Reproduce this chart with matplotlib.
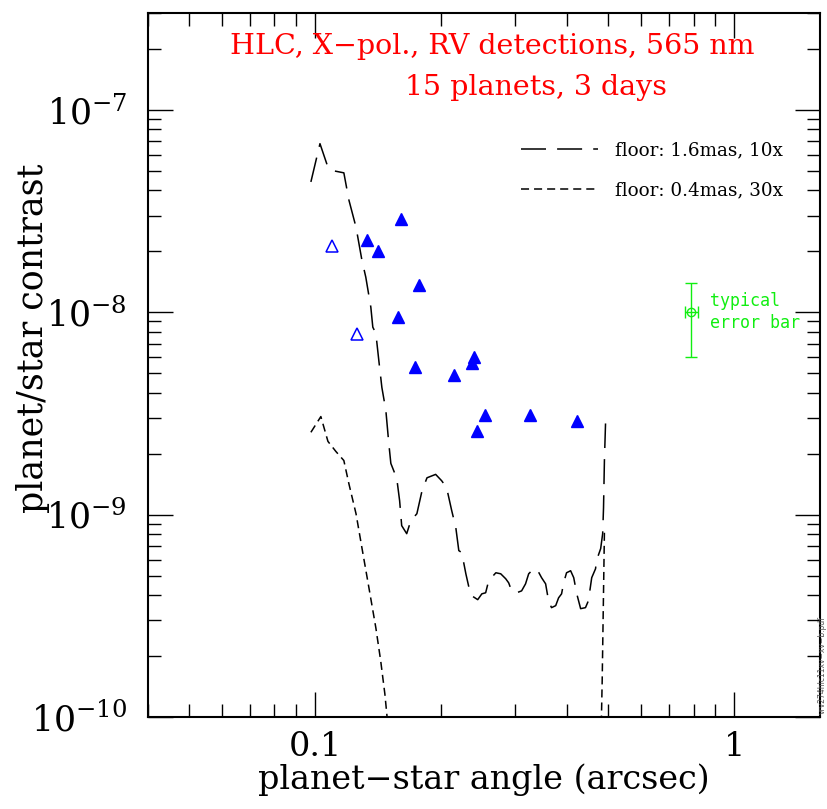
import numpy as np
import matplotlib

matplotlib.use("Agg")
import matplotlib.pyplot as plt
from matplotlib.ticker import LogLocator, NullFormatter

plt.rcParams.update({
    "font.family": "DejaVu Serif",
    "mathtext.fontset": "dejavuserif",
    "lines.scale_dashes": False,
})

# contrast floor, 1.6 mas pointing, 10x post-processing (long dashes)
long_x = [0.0978, 0.1028, 0.1074, 0.111, 0.1172, 0.1205, 0.1253, 0.1294, 0.1322, 0.1359,
          0.1374, 0.1397, 0.142, 0.1444, 0.1476, 0.150, 0.1517, 0.1567, 0.1592, 0.161,
          0.1655, 0.1693, 0.175, 0.180, 0.185, 0.194, 0.2005, 0.206, 0.2118, 0.2167,
          0.2203, 0.2239, 0.229, 0.233, 0.2366, 0.2444, 0.25, 0.2553, 0.2595, 0.27,
          0.2773, 0.285, 0.2897, 0.2944, 0.3027, 0.311, 0.3178, 0.3233, 0.3287, 0.338,
          0.347, 0.3548, 0.3606, 0.3665, 0.375, 0.381, 0.3873, 0.3917, 0.398, 0.407,
          0.414, 0.421, 0.43, 0.4416, 0.4487, 0.457, 0.4667, 0.469, 0.48, 0.4853,
          0.4876, 0.49, 0.493]
long_y = [4.4e-8, 6.8e-8, 5.2e-8, 4.99e-8, 4.88e-8, 3.58e-8, 2.63e-8, 1.81e-8, 1.49e-8, 1.06e-8,
          8.43e-9, 7.87e-9, 5.78e-9, 4.25e-9, 3.27e-9, 2.25e-9, 1.79e-9, 1.51e-9, 1.17e-9, 8.82e-10,
          8.05e-10, 9.34e-10, 1.01e-9, 1.31e-9, 1.52e-9, 1.58e-9, 1.47e-9, 1.36e-9, 1.05e-9, 8.63e-10,
          6.64e-10, 6.49e-10, 5.1e-10, 4.35e-10, 3.97e-10, 3.8e-10, 4.06e-10, 4.11e-10, 4.71e-10, 5.16e-10,
          5.1e-10, 4.82e-10, 4.6e-10, 4.2e-10, 4.11e-10, 4.2e-10, 4.55e-10, 5.1e-10, 5.28e-10, 5.4e-10,
          4.88e-10, 4.55e-10, 3.75e-10, 3.47e-10, 3.55e-10, 3.88e-10, 4.06e-10, 4.6e-10, 5.16e-10, 5.28e-10,
          4.88e-10, 4.06e-10, 3.43e-10, 3.47e-10, 3.75e-10, 4.88e-10, 5.4e-10, 5.92e-10, 6.79e-10, 8.05e-10,
          1.08e-9, 1.85e-9, 2.82e-9]

# contrast floor, 0.4 mas pointing, 30x post-processing (short dashes)
short_x = [0.0978, 0.1033, 0.1074, 0.1122, 0.1172, 0.1205, 0.1253, 0.1294, 0.1345, 0.1397,
           0.1435, 0.1468, 0.1484, 0.150, np.nan, 0.481, 0.484, 0.487, 0.490]
short_y = [2.55e-9, 3.05e-9, 2.3e-9, 2.05e-9, 1.85e-9, 1.42e-9, 1.01e-9, 6.87e-10, 4.35e-10, 2.76e-10,
           1.89e-10, 1.3e-10, 1.03e-10, 8e-11, np.nan, 8e-11, 1.5e-10, 3.5e-10, 8.2e-10]

# RV planets
detected_x = [0.133, 0.141, 0.160, 0.177, 0.158, 0.173, 0.214, 0.240, 0.237, 0.254, 0.243, 0.325, 0.421]
detected_y = [2.27e-8, 2.0e-8, 2.88e-8, 1.36e-8, 9.5e-9, 5.35e-9, 4.9e-9, 6.0e-9, 5.6e-9, 3.1e-9,
              2.6e-9, 3.1e-9, 2.9e-9]
inner_x = [0.110, 0.126]
inner_y = [2.12e-8, 7.8e-9]

# typical error bar
err_x = [0.79]
err_y = [1e-8]
err_dx = [0.028]
err_dy = [4e-9]

GREEN = "#11ee11"

fig = plt.figure(figsize=(8.27, 8.09), dpi=100)
ax = fig.add_axes([0.179, 0.1137, 0.8125, 0.870])
ax.set_xscale("log")
ax.set_yscale("log")

ln1, = ax.plot(long_x, long_y, color="black", lw=1.1, dashes=(18, 8))
ln2, = ax.plot(short_x, short_y, color="black", lw=1.1, dashes=(5.8, 3.6))
ax.plot(detected_x, detected_y, ls="none", marker="^", ms=9, color="blue")
ax.plot(inner_x, inner_y, ls="none", marker="^", ms=8.5, mfc="none", mec="blue", mew=1.1)
ax.errorbar(err_x, err_y, xerr=err_dx, yerr=err_dy, fmt="o", ms=6, mfc="none",
            color=GREEN, elinewidth=1, capsize=4.5, mew=1)
ax.text(0.875, 1e-8, "typical\nerror bar", family="DejaVu Sans Mono", fontsize=12,
        color=GREEN, ha="left", va="center", linespacing=1.3)

ax.text(0.513, 0.952, "HLC, X\u2212pol., RV detections, 565 nm", transform=ax.transAxes,
        ha="center", va="center", color="red", fontsize=20.5)
ax.text(0.577, 0.895, "15 planets, 3 days", transform=ax.transAxes,
        ha="center", va="center", color="red", fontsize=20.5)

ax.legend([ln1, ln2], ["floor: 1.6mas, 10x", "floor: 0.4mas, 30x"], loc="upper right",
          bbox_to_anchor=(0.945, 0.818), frameon=False, fontsize=13.2, handlelength=4.2,
          handletextpad=0.93, labelspacing=1.2, borderpad=0, borderaxespad=0)

ax.set_xlim(0.04, 1.6)
ax.set_ylim(1e-10, 3e-7)
ax.set_xticks([0.1, 1])
ax.set_xticklabels(["0.1", "1"])
ax.xaxis.set_minor_locator(LogLocator(base=10, subs=np.arange(2, 10)))
ax.xaxis.set_minor_formatter(NullFormatter())
ax.yaxis.set_major_locator(LogLocator(base=10))
ax.yaxis.set_minor_locator(LogLocator(base=10, subs=np.arange(2, 10)))
ax.yaxis.set_minor_formatter(NullFormatter())

ax.tick_params(which="both", direction="in", top=True, right=True, color="black")
ax.tick_params(which="major", length=18, width=1)
ax.tick_params(which="minor", length=9.4, width=1)
ax.tick_params(axis="x", labelsize=24, pad=10)
ax.tick_params(axis="y", labelsize=25, pad=15)
for sp in ax.spines.values():
    sp.set_linewidth(1.5)

ax.set_xlabel("planet\u2212star angle (arcsec)", fontsize=24)
ax.set_ylabel("planet/star contrast", fontsize=25)
ax.xaxis.set_label_coords(0.5, -0.066)
ax.yaxis.set_label_coords(-0.146, 0.538)

fig.text(1.0, 0.117, "vrv274hlc11xv\u2212xv\u2212b.pdf", rotation=90, fontsize=5.5,
         family="DejaVu Sans", color="0.35", ha="right", va="bottom")

fig.savefig("out.png", dpi=100)
